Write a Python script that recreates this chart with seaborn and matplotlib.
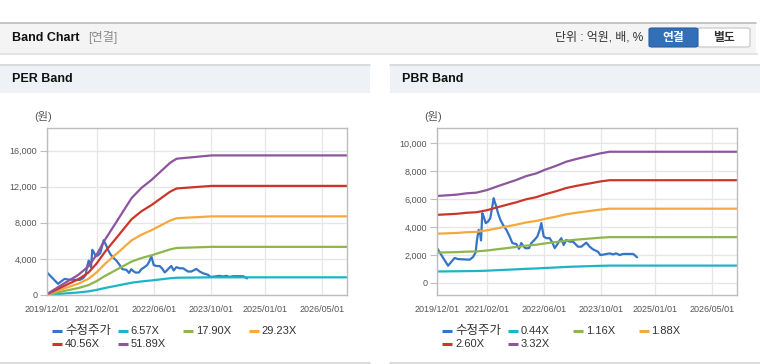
import matplotlib
matplotlib.use('Agg')
import matplotlib.pyplot as plt
import matplotlib.dates as mdates
from matplotlib.patches import Rectangle, FancyBboxPatch
from matplotlib.lines import Line2D
from matplotlib.ticker import FuncFormatter
import pandas as pd
import seaborn as sns

# adjusted price (수정주가), shared by both charts
price_dates = ['2019-12-01', '2020-03-04', '2020-04-29', '2020-05-28', '2020-09-04', '2020-10-03',
               '2020-10-25', '2020-11-06', '2020-11-20', '2020-12-04', '2020-12-10', '2020-12-21',
               '2021-01-02', '2021-01-19', '2021-02-08', '2021-02-27', '2021-03-28', '2021-04-05',
               '2021-04-19', '2021-05-04', '2021-05-24', '2021-06-15', '2021-07-14', '2021-08-11',
               '2021-09-03', '2021-10-07', '2021-10-30', '2021-11-18', '2021-12-08', '2021-12-25',
               '2022-01-23', '2022-02-12', '2022-03-12', '2022-04-04', '2022-04-24', '2022-05-08',
               '2022-05-28', '2022-06-20', '2022-07-18', '2022-08-10', '2022-08-30', '2022-09-19',
               '2022-10-06', '2022-10-25', '2022-11-14', '2022-12-07', '2023-01-04', '2023-02-02',
               '2023-03-16', '2023-04-14', '2023-05-26', '2023-06-24', '2023-07-22', '2023-09-03',
               '2023-09-23', '2023-10-29', '2023-12-11', '2024-01-09', '2024-02-06', '2024-03-05',
               '2024-04-03', '2024-05-01', '2024-06-27', '2024-07-11', '2024-07-31']
price = [2500, 1240, 1790, 1710, 1670, 1860,
         2190, 3100, 3810, 3450, 3050, 5000,
         4760, 4290, 4400, 4640, 6070, 5830,
         5480, 5000, 4520, 4170, 3810, 3330,
         2860, 2790, 2450, 2860, 2620, 2480,
         2500, 2860, 3100, 3330, 3810, 4290,
         3330, 3210, 3210, 2900, 2500, 2740,
         2980, 3210, 2720, 3080, 2960, 2960,
         2600, 2600, 2890, 2600, 2410, 2240,
         2000, 2050, 2120, 2050, 2120, 2000,
         2080, 2080, 2080, 2000, 1840]

# PER band: EPS base and multiples
per_dates = ['2019-12-01', '2020-05-03', '2020-08-24', '2020-11-17', '2021-01-27', '2021-04-08',
             '2021-07-17', '2021-11-21', '2022-02-14', '2022-05-11', '2022-10-14', '2022-11-20',
             '2022-12-10', '2023-05-29', '2023-10-04', '2026-11-30']
per_eps = [2, 26, 43, 61, 86, 118, 157, 207, 229, 246, 282, 288, 291, 295, 298, 298]
per_multiples = [6.57, 17.90, 29.23, 40.56, 51.89]

# PBR band: BPS base and multiples
pbr_dates = ['2019-12-01', '2020-05-14', '2020-08-07', '2020-11-01', '2021-01-31', '2021-04-21',
             '2021-07-14', '2021-10-07', '2021-12-31', '2022-03-26', '2022-06-02', '2022-09-13',
             '2022-12-07', '2023-03-02', '2023-05-26', '2023-09-25', '2023-12-11', '2026-11-30']
pbr_bps = [1877, 1905, 1934, 1949, 2006, 2078, 2151, 2223, 2307, 2364, 2437, 2530,
           2617, 2675, 2726, 2798, 2831, 2831]
pbr_multiples = [0.44, 1.16, 1.88, 2.60, 3.32]

x_ticks = ['2019-12-01', '2021-02-01', '2022-06-01', '2023-10-01', '2025-01-01', '2026-05-01']
colors = ['#3574c6', '#1db4c8', '#8db64d', '#f5a93c', '#cc3529', '#8c569f']

sns.set_theme(style='white')
plt.rcParams['font.family'] = ['Liberation Sans', 'Noto Sans CJK KR']

W, H = 760, 364
fig = plt.figure(figsize=(W / 100, H / 100), dpi=100)
fig.patch.set_facecolor('white')


def fx(x):
    return x / W


def fy(y):
    return 1 - y / H


def rect(x0, y0, x1, y1, **kw):
    fig.add_artist(Rectangle((fx(x0), fy(y1)), fx(x1 - x0), (y1 - y0) / H,
                             transform=fig.transFigure, **kw))


def hline(x0, x1, y, color, lw=1):
    fig.add_artist(Line2D([fx(x0), fx(x1)], [fy(y), fy(y)], transform=fig.transFigure,
                          color=color, lw=lw))


# top header bar
rect(0, 53, 758, 55, facecolor='#e4e4e4', edgecolor='none')
rect(0, 22, 756, 53, facecolor='#f4f4f4', edgecolor='none')
hline(0, 756, 22.5, '#bdbdbd', 1.2)
fig.text(fx(12), fy(38), 'Band Chart', fontsize=9, fontweight='bold', color='#111111', va='center')
fig.text(fx(88), fy(38), '[연결]', fontsize=8.8, color='#8a8a8a', va='center')
fig.text(fx(643), fy(38), '단위 : 억원, 배, %', fontsize=8.6, color='#333333', va='center', ha='right')
fig.add_artist(FancyBboxPatch((fx(697), fy(47)), fx(53), 19 / H, boxstyle='round,pad=0,rounding_size=0.004',
                              transform=fig.transFigure, facecolor='white', edgecolor='#c4c4c4', lw=0.8))
fig.add_artist(FancyBboxPatch((fx(649), fy(47)), fx(49), 19 / H, boxstyle='round,pad=0,rounding_size=0.004',
                              transform=fig.transFigure, facecolor='#336fb6', edgecolor='#2a5f9e', lw=0.8))
fig.text(fx(673), fy(38), '연결', fontsize=8.5, fontweight='bold', color='white', va='center', ha='center')
fig.text(fx(724), fy(38), '별도', fontsize=8.5, fontweight='bold', color='#333333', va='center', ha='center')


def draw_panel(x0, title, dates, base, multiples, ylim, yticks):
    # panel header
    rect(x0, 64, x0 + 370, 93, facecolor='#eef2f7', edgecolor='none')
    hline(x0, x0 + 370, 64.5, '#d6d6d6', 1.2)
    hline(x0, x0 + 370, 362.5, '#d6d6d6', 1.2)
    fig.text(fx(x0 + 12), fy(79), title, fontsize=9, fontweight='bold', color='#111111', va='center')
    fig.text(fx(x0 + 43), fy(117), '(원)', fontsize=8, color='#555555', va='center', ha='center')

    labels = ['수정주가'] + [f'{m:.2f}X' for m in multiples]
    frames = [pd.DataFrame({'date': pd.to_datetime(price_dates), 'value': price, 'series': labels[0]})]
    for m, lab in zip(multiples, labels[1:]):
        frames.append(pd.DataFrame({'date': pd.to_datetime(dates),
                                    'value': [b * m for b in base], 'series': lab}))
    df = pd.concat(frames, ignore_index=True)

    ax = fig.add_axes([fx(x0 + 47), fy(295), fx(300), 167 / H])
    ax.set_facecolor('white')
    sns.lineplot(data=df, x='date', y='value', hue='series', hue_order=labels, palette=colors,
                 estimator=None, legend=False, linewidth=1.6, ax=ax)
    ax.set_xlim(pd.Timestamp(dates[0]), pd.Timestamp(dates[-1]))
    ax.set_ylim(*ylim)
    ax.set_yticks(yticks)
    ax.set_xticks(pd.to_datetime(x_ticks))
    ax.xaxis.set_major_formatter(mdates.DateFormatter('%Y/%m/%d'))
    ax.yaxis.set_major_formatter(FuncFormatter(lambda v, p: f'{v:,.0f}'))
    ax.set_xlabel('')
    ax.set_ylabel('')
    ax.grid(True, color='#e6e6e6', lw=0.9)
    ax.set_axisbelow(True)
    for s in ax.spines.values():
        s.set_color('#bdbdbd')
        s.set_linewidth(1)
    ax.tick_params(axis='y', length=5, width=0.8, color='#bdbdbd', labelsize=6.5,
                   labelcolor='#555555', pad=2, left=True)
    ax.tick_params(axis='x', length=0, labelsize=6.5, labelcolor='#555555', pad=7)

    # legend: 4 items on the first row, 2 on the second
    for i, lab in enumerate(labels):
        lx = x0 + 52 + 65.5 * (i % 4)
        ly = 331 + 13 * (i // 4)
        fig.add_artist(Line2D([fx(lx), fx(lx + 10)], [fy(ly), fy(ly)], transform=fig.transFigure,
                              color=colors[i], lw=2.2, solid_capstyle='butt'))
        fig.text(fx(lx + 13), fy(ly), lab, fontsize=9 if i == 0 else 8, color='#333333', va='center')


draw_panel(0, 'PER Band', per_dates, per_eps, per_multiples, (0, 18500),
           [0, 4000, 8000, 12000, 16000])
draw_panel(390, 'PBR Band', pbr_dates, pbr_bps, pbr_multiples, (-860, 11100),
           [0, 2000, 4000, 6000, 8000, 10000])

fig.savefig('out.png', dpi=100)
